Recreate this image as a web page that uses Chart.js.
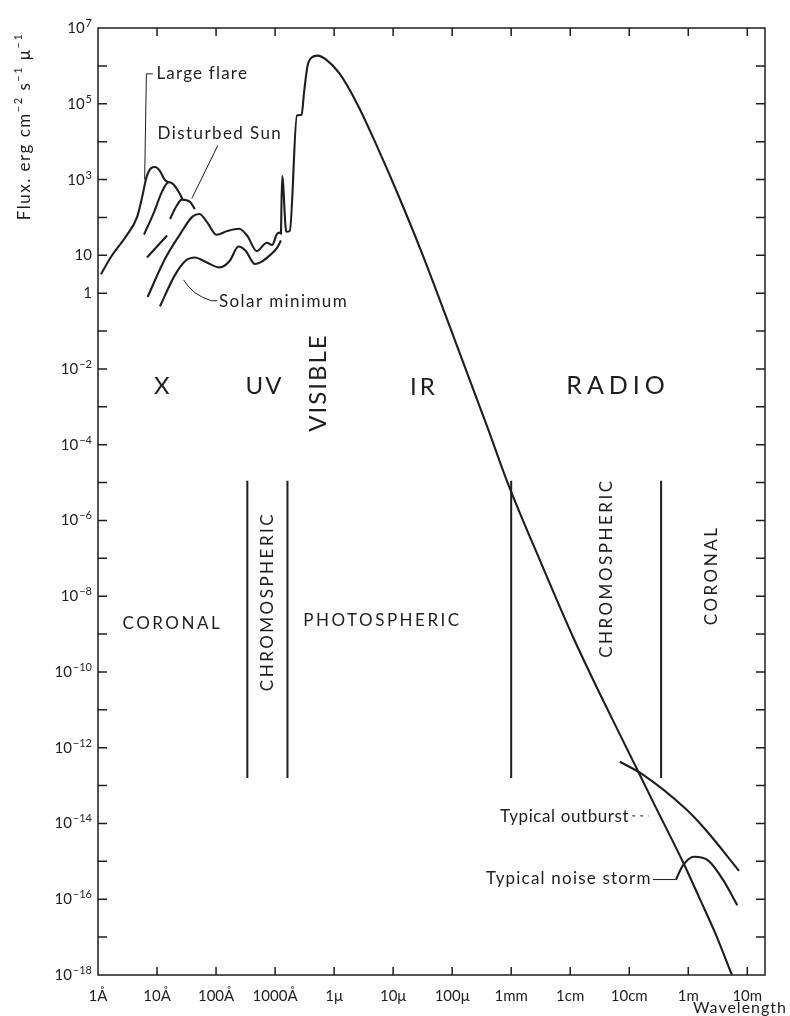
<!DOCTYPE html>
<html>
<head>
<meta charset="utf-8">
<title>Solar spectrum</title>
<script src="https://cdn.jsdelivr.net/npm/chart.js@4.4.1/dist/chart.umd.min.js"></script>
<style>
  body { margin: 0; background: #fff; }
  .wrap { position: relative; width: 790px; height: 1016px; }
</style>
</head>
<body>
<div class="wrap"><canvas id="spectrum"></canvas></div>
<script>
// every value below is a log10: wavelength in Angstrom, flux in erg cm-2 s-1 micron-1
const wlLabels = ["1Å", "10Å", "100Å", "1000Å", "1μ", "10μ", "100μ", "1mm", "1cm", "10cm", "1m", "10m"];
const fluxTicks = [7, 5, 3, 1, 0, -2, -4, -6, -8, -10, -12, -14, -16, -18];

const largeFlare = [[0.05, 0.50], [0.23, 0.98], [0.47, 1.49], [0.66, 2.00], [0.75, 2.55], [0.82, 3.05],
  [0.90, 3.30], [0.97, 3.33], [1.05, 3.22], [1.12, 3.02], [1.19, 2.92]];
const disturbedHigh = [[0.78, 1.55], [0.95, 2.14], [1.09, 2.70], [1.20, 2.93], [1.28, 2.87], [1.39, 2.61], [1.43, 2.48]];
const disturbedLow = [[0.83, 0.94], [1.17, 1.52], [1.19, null], [1.22, 1.96], [1.33, 2.30], [1.42, 2.47],
  [1.56, 2.41], [1.64, 2.22]];
const quietSun = [[0.84, -0.10], [1.14, 0.92], [1.40, 1.58], [1.60, 2.02], [1.72, 2.09], [1.85, 1.87],
  [2.01, 1.54], [2.19, 1.64], [2.39, 1.70], [2.53, 1.51], [2.69, 1.11], [2.86, 1.33], [2.95, 1.27],
  [3.04, 1.58], [3.10, 1.60]];
const solarMinimum = [[1.05, -0.35], [1.30, 0.47], [1.48, 0.85], [1.64, 0.94], [1.82, 0.83], [2.06, 0.68],
  [2.23, 0.85], [2.38, 1.23], [2.50, 1.12], [2.66, 0.77], [2.76, 0.82], [2.92, 1.01], [3.03, 1.19], [3.10, 1.39]];
const mainSpectrum = [[3.10, 1.55], [3.12, 3.09], [3.19, 1.62], [3.25, 1.65], [3.37, 4.69], [3.45, 4.71],
  [3.49, 5.29], [3.55, 6.00], [3.62, 6.22], [3.72, 6.27], [3.86, 6.17], [4.09, 5.80], [4.40, 4.97],
  [4.72, 3.90], [5.07, 2.65], [5.49, 1.05], [5.94, -0.80], [6.30, -2.30], [6.60, -3.55], [6.95, -5.05],
  [7.50, -7.10], [8.04, -9.05], [8.51, -10.60], [9.00, -12.15], [9.41, -13.45], [9.92, -15.05],
  [10.19, -15.97], [10.45, -16.87], [10.74, -18.0]];
const outburst = [[8.84, -12.37], [9.20, -12.68], [9.96, -13.62], [10.29, -14.16], [10.86, -15.25]];
const noiseStorm = [[9.79, -15.49], [9.90, -15.13], [10.10, -14.88], [10.34, -14.98], [10.59, -15.49], [10.83, -16.16]];

// source-region boundaries: wavelength, and the flux range they span
const regionEdges = [2.53, 3.21, 7.0, 9.54];
const edgeTop = -4.95;
const edgeBottom = -12.8;

const ink = "#1e1e1e";
const font = "Lato, 'Open Sans', sans-serif";

function curve(points, width) {
  return {
    data: points.map(p => ({ x: p[0], y: p[1] })),
    showLine: true,
    borderColor: ink,
    borderWidth: width,
    pointRadius: 0,
    cubicInterpolationMode: "monotone",
    spanGaps: false,
  };
}

const datasets = [largeFlare, disturbedHigh, disturbedLow, quietSun, solarMinimum, mainSpectrum, outburst, noiseStorm]
  .map(s => curve(s, 2.1));
regionEdges.forEach(e => {
  datasets.push({
    data: [{ x: e, y: edgeTop }, { x: e, y: edgeBottom }],
    showLine: true, borderColor: ink, borderWidth: 2, pointRadius: 0, tension: 0,
  });
});

function write(ctx, text, x, y, size, spacing, align, rotate) {
  ctx.save();
  ctx.translate(x, y);
  if (rotate) ctx.rotate(-Math.PI / 2);
  ctx.font = size + "px " + font;
  ctx.letterSpacing = spacing + "px";
  ctx.textAlign = align || "center";
  ctx.textBaseline = "middle";
  ctx.fillText(text, 0, 0);
  ctx.restore();
}

const decor = {
  id: "decor",
  afterDraw(chart) {
    const { ctx, chartArea: a } = chart;
    const X = v => chart.scales.x.getPixelForValue(v);
    const Y = v => chart.scales.y.getPixelForValue(v);
    ctx.save();
    ctx.strokeStyle = ink;
    ctx.fillStyle = ink;

    // frame and inward ticks
    ctx.lineWidth = 1.5;
    ctx.strokeRect(a.left, a.top, a.right - a.left, a.bottom - a.top);
    ctx.beginPath();
    for (let i = 1; i < wlLabels.length; i++) {
      ctx.moveTo(X(i), a.bottom); ctx.lineTo(X(i), a.bottom - 8);
      ctx.moveTo(X(i), a.top); ctx.lineTo(X(i), a.top + 8);
    }
    for (let e = -17; e <= 6; e++) {
      ctx.moveTo(a.left, Y(e)); ctx.lineTo(a.left + 9, Y(e));
      ctx.moveTo(a.right, Y(e)); ctx.lineTo(a.right - 9, Y(e));
    }
    ctx.stroke();

    // y tick labels with raised exponents
    ctx.textBaseline = "alphabetic";
    ctx.textAlign = "right";
    fluxTicks.forEach(e => {
      const yy = Y(e);
      let right = a.left - 6;
      if (e !== 0 && e !== 1) {
        const sup = e < 0 ? "−" + (-e) : String(e);
        ctx.font = "11px " + font;
        ctx.fillText(sup, right, yy - 1);
        right -= ctx.measureText(sup).width + 1;
      }
      ctx.font = "15px " + font;
      ctx.fillText(e === 0 ? "1" : "10", right, yy + 5);
    });

    // y title
    ctx.save();
    ctx.translate(24, Y(4.4));
    ctx.rotate(-Math.PI / 2);
    ctx.letterSpacing = "1.5px";
    ctx.textAlign = "left";
    const parts = [["Flux. erg cm", 0], ["−2", 1], [" s", 0], ["−1", 1], [" μ", 0], ["−1", 1]];
    let total = 0;
    parts.forEach(p => { ctx.font = (p[1] ? 11 : 17) + "px " + font; total += ctx.measureText(p[0]).width; });
    let cx = -total / 2;
    parts.forEach(p => {
      ctx.font = (p[1] ? 11 : 17) + "px " + font;
      ctx.fillText(p[0], cx, p[1] ? -2 : 6);
      cx += ctx.measureText(p[0]).width;
    });
    ctx.restore();

    write(ctx, "Wavelength", a.right + 22, a.bottom + 33, 16, 1, "right");

    // thin pointer lines
    ctx.lineWidth = 1;
    ctx.beginPath();
    ctx.moveTo(X(0.93), Y(5.79)); ctx.lineTo(X(0.82), Y(5.79)); ctx.lineTo(X(0.79), Y(3.0));
    ctx.moveTo(X(2.03), Y(3.9)); ctx.lineTo(X(1.59), Y(2.5));
    ctx.moveTo(X(2.02), Y(-0.2)); ctx.lineTo(X(1.92), Y(-0.2));
    ctx.quadraticCurveTo(X(1.6), Y(-0.05), X(1.45), Y(0.35));
    ctx.moveTo(X(9.40), Y(-15.48)); ctx.lineTo(X(9.78), Y(-15.48));
    ctx.stroke();
    ctx.setLineDash([3, 5]);
    ctx.beginPath();
    ctx.moveTo(X(9.05), Y(-13.8)); ctx.lineTo(X(9.33), Y(-13.8));
    ctx.stroke();
    ctx.setLineDash([]);

    // curve labels
    write(ctx, "Large flare", X(0.99), Y(5.79), 17, 1.2, "left");
    write(ctx, "Disturbed Sun", X(1.01), Y(4.22), 17, 1.4, "left");
    write(ctx, "Solar minimum", X(2.05), Y(-0.23), 17, 1.4, "left");
    write(ctx, "Typical outburst", X(9.0), Y(-13.82), 17, 0.6, "right");
    write(ctx, "Typical noise storm", X(9.38), Y(-15.45), 17, 1.2, "right");

    // spectral bands
    write(ctx, "X", X(1.08), Y(-2.47), 24, 0);
    write(ctx, "UV", X(2.82), Y(-2.46), 24, 2);
    write(ctx, "VISIBLE", X(3.73), Y(-2.36), 24, 2, "center", true);
    write(ctx, "IR", X(5.52), Y(-2.48), 24, 3);
    write(ctx, "RADIO", X(8.81), Y(-2.46), 25, 5);

    // source regions
    write(ctx, "CORONAL", X(1.26), Y(-8.73), 17, 2.5);
    write(ctx, "CHROMOSPHERIC", X(2.88), Y(-8.14), 17, 2.5, "center", true);
    write(ctx, "PHOTOSPHERIC", X(4.82), Y(-8.65), 17, 2.5);
    write(ctx, "CHROMOSPHERIC", X(8.61), Y(-7.26), 17, 2.5, "center", true);
    write(ctx, "CORONAL", X(10.39), Y(-7.45), 17, 2.5, "center", true);
    ctx.restore();
  },
};

new Chart(document.getElementById("spectrum"), {
  type: "scatter",
  data: { datasets: datasets },
  plugins: [decor],
  options: {
    responsive: true,
    maintainAspectRatio: false,
    animation: false,
    layout: { padding: { top: 28, right: 25, left: 0, bottom: 0 } },
    plugins: { legend: { display: false }, tooltip: { enabled: false } },
    scales: {
      x: {
        type: "linear",
        min: 0,
        max: 11.3,
        grid: { display: false },
        border: { display: false },
        afterBuildTicks: axis => { axis.ticks = wlLabels.map((t, i) => ({ value: i })); },
        afterFit: axis => { axis.height = 41; },
        ticks: {
          autoSkip: false,
          maxRotation: 0,
          padding: 4,
          color: ink,
          font: { family: "Lato", size: 15 },
          callback: v => wlLabels[Math.round(v)],
        },
      },
      y: {
        type: "linear",
        min: -18,
        max: 7,
        grid: { display: false },
        border: { display: false },
        ticks: { display: false },
        afterFit: axis => { axis.width = 98; },
      },
    },
  },
});
</script>
</body>
</html>
